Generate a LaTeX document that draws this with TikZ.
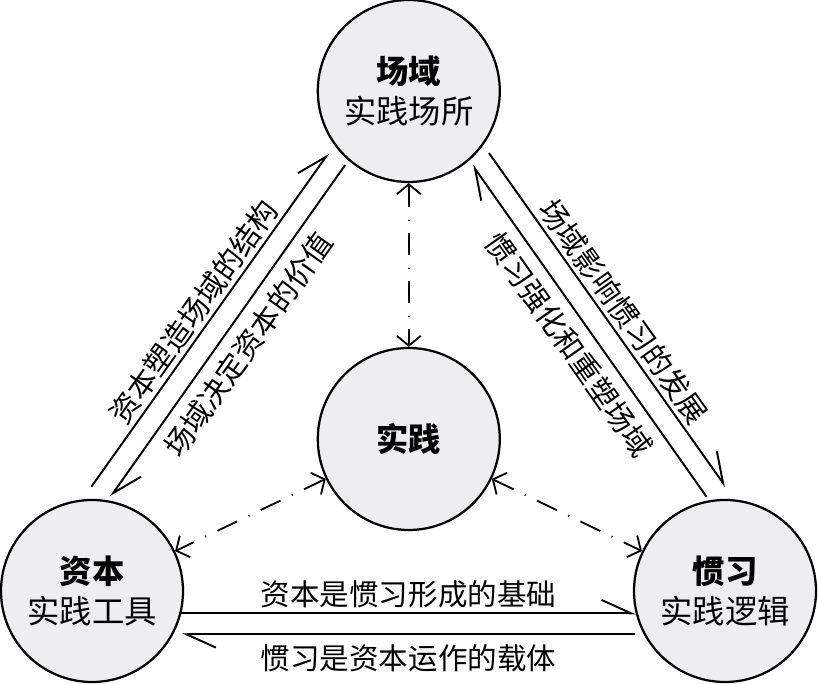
\documentclass[tikz,border=0pt]{standalone}
\usepackage{fontspec}
\usepackage{tikz}
\usetikzlibrary{arrows.meta}
\newfontfamily\cjk{Noto Sans CJK SC}
\definecolor{diskgray}{RGB}{238,238,240}
\tikzset{disk/.style = {draw, circle, line width = 1.6pt, fill = diskgray, minimum size = 4.55cm,
                        inner sep = 0, align = center, font = \cjk\fontsize{23}{29}\selectfont}}
\tikzset{harp/.style = {line width = 1.4pt, -{Straight Barb[left, length = 21pt, width = 19pt]}}}
\tikzset{dashdot/.style = {line width = 1.3pt, dash pattern = on 15.6pt off 8.9pt on 0.8pt off 8.9pt,
                           {Straight Barb[length = 7pt, width = 17pt]}-{Straight Barb[length = 7pt, width = 17pt]}}}
\tikzset{lab/.style = {font = \cjk\fontsize{21}{21}\selectfont, sloped}}

\begin{document}
\begin{tikzpicture}
    \useasboundingbox (0, 0) rectangle (20.45, 17.1);
    \node [disk] (field) at (10.22, 14.825) {{\bfseries 场域}\\实践场所};
    \node [disk] (practice) at (10.22, 6.125) {\bfseries 实践};
    \node [disk] (capital) at (2.3, 2.325) {{\bfseries 资本}\\实践工具};
    \node [disk] (habitus) at (18.125, 2.325) {{\bfseries 惯习}\\实践逻辑};

    \draw [dashdot] (field) -- (practice);
    \draw [dashdot] (practice) -- (capital);
    \draw [dashdot] (practice) -- (habitus);

    \draw [harp, shorten < = 11pt, shorten > = 7pt] (capital.96) -- (field.216)
        node [lab, midway, above, inner sep = 2.5pt] {资本塑造场域的结构};
    \draw [harp, shorten < = 4pt, shorten > = 3pt] (field.229) -- (capital.80)
        node [lab, midway, below, inner sep = 7pt] {场域决定资本的价值};
    \draw [harp, shorten < = 7pt, shorten > = 11pt] (field.324) -- (habitus.84)
        node [lab, midway, above, inner sep = 2.5pt] {场域影响惯习的发展};
    \draw [harp, shorten < = 3pt, shorten > = 4pt] (habitus.100) -- (field.311)
        node [lab, midway, below, inner sep = 7pt] {惯习强化和重塑场域};

    \draw [harp] (capital.-14.4) -- (habitus.194.4)
        node [lab, midway, above, inner sep = 3pt] {资本是惯习形成的基础};
    \draw [harp, shorten < = 6pt, shorten > = 6pt] (habitus.208.4) -- (capital.-28.4)
        node [lab, midway, below, inner sep = 7pt] {惯习是资本运作的载体};
\end{tikzpicture}
\end{document}
